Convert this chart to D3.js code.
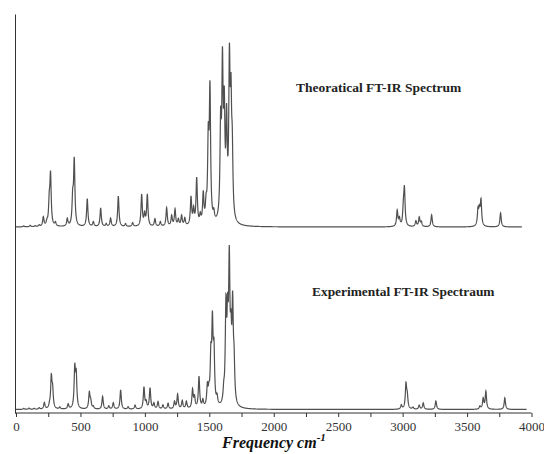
<!DOCTYPE html>
<html>
<head>
<meta charset="utf-8">
<script src="https://cdn.jsdelivr.net/npm/d3@7"></script>
<style>
  body { margin: 0; background: #fff; }
  svg text { font-family: "Liberation Serif", "DejaVu Serif", serif; }
</style>
</head>
<body>
<svg class="svgChart"></svg>
<script>
// Peak positions (cm-1) and relative intensities (%).
var theoPeaks = [60, 110, 150, 180, 212, 240, 258, 268, 306, 398, 440, 452, 553, 600, 657, 700, 734, 794, 850, 905,
    975, 998, 1019, 1078, 1120, 1169, 1208, 1234, 1260, 1285, 1310, 1358, 1378, 1402, 1430, 1453, 1475, 1492, 1505, 1535,
    1588, 1602, 1616, 1634, 1656, 1668, 1678,
    2958, 2975, 3006, 3014, 3103, 3129, 3145, 3225, 3585, 3596, 3608, 3760];
var theoHeights = [0.5, 0.8, 0.5, 0.8, 5, 2, 12, 27, 2, 4, 14, 35, 15, 2.5, 10, 1.5, 4.5, 16.5, 1.5, 2,
    17, 6, 17, 4, 2.5, 10, 5.5, 9, 3.5, 5.5, 4, 15, 8, 25, 4.5, 16, 9, 42, 70, 4.5,
    48, 78, 54, 50, 80, 56, 32,
    8.5, 4, 8.5, 19, 3, 5, 2.5, 6.5, 8.5, 7.5, 13.5, 7.5];

var expPeaks = [60, 100, 140, 180, 220, 260, 274, 284, 340, 405, 456, 467, 569, 580, 600, 672, 720, 755, 812, 870,
    924, 993, 1010, 1040, 1070, 1102, 1140, 1180, 1230, 1254, 1290, 1322, 1370, 1385, 1420, 1450, 1485, 1497, 1512, 1524,
    1536, 1560, 1612, 1629, 1642, 1655, 1668, 1681, 1692,
    2990, 3026, 3036, 3080, 3129, 3160, 3258, 3600, 3625, 3646, 3793];
var expHeights = [0.6, 0.8, 0.6, 0.9, 4, 1.8, 19, 11, 1.2, 3, 24, 20, 10, 4.5, 1.5, 8, 2, 4, 12, 1.5,
    2.5, 13.5, 4, 13, 3.5, 4.5, 2.5, 3.5, 4.5, 9, 5, 4.5, 11.5, 6.5, 19.5, 4.5, 12, 7.5, 28, 48,
    32, 5, 7, 57, 45, 82, 33, 57, 22,
    2.5, 15, 7.5, 1.2, 2.5, 4, 5.3, 1.8, 6.5, 11, 7.2];

var xTicks = [0, 250, 500, 750, 1000, 1250, 1500, 1750, 2000, 2250, 2500, 2750, 3000, 3250, 3500, 3750, 4000];
var xTickLabels = [0, 500, 1000, 1500, 2000, 2500, 3000, 3500, 4000];

var width = 544, height = 454;
var halfWidth = 6; // half width of each band, cm-1

var svg = d3.select(".svgChart")
    .attr("width", width)
    .attr("height", height);

var x = d3.scaleLinear().domain([0, 4000]).range([16, 531.5]);
var yTheo = d3.scaleLinear().domain([0, 100]).range([227, 42]);
var yExp = d3.scaleLinear().domain([0, 100]).range([409.5, 249]);
var yFrame = d3.scaleLinear().domain([0, 1]).range([413, 14]);

// Broaden the stick peaks into a line (Lorentzian band shape).
function spectrum(peaks, heights, end) {
    var pts = [];
    for (var w = 0; w <= end; w += 1) {
        var s = 0;
        for (var i = 0; i < peaks.length; i++) {
            var d = (w - peaks[i]) / halfWidth;
            s += heights[i] / (1 + d * d);
        }
        pts.push([w, s]);
    }
    return pts;
}

var lineTheo = d3.line()
    .x(function (d) { return x(d[0]); })
    .y(function (d) { return yTheo(d[1]); });
var lineExp = d3.line()
    .x(function (d) { return x(d[0]); })
    .y(function (d) { return yExp(d[1]); });

svg.append("path")
    .datum(spectrum(theoPeaks, theoHeights, 3925))
    .attr("d", lineTheo)
    .attr("fill", "none")
    .attr("stroke", "#505050")
    .attr("stroke-width", 1.2);

svg.append("path")
    .datum(spectrum(expPeaks, expHeights, 3962))
    .attr("d", lineExp)
    .attr("fill", "none")
    .attr("stroke", "#505050")
    .attr("stroke-width", 1.2);

// x axis
var xAxis = svg.append("g")
    .attr("transform", "translate(0,413)")
    .call(d3.axisBottom(x)
        .tickValues(xTicks)
        .tickSize(4)
        .tickSizeOuter(0)
        .tickPadding(5)
        .tickFormat(function (d) { return xTickLabels.indexOf(d) >= 0 ? d : ""; }));
xAxis.select(".domain").attr("stroke", "#333").attr("d", "M15,0H531.5");
xAxis.selectAll(".tick line").attr("stroke", "#333");
xAxis.selectAll(".tick text")
    .attr("fill", "#333")
    .style("font-size", "13px")
    .style("font-family", "'Liberation Serif', serif");

// y axis (plain line, no ticks)
var yAxis = svg.append("g")
    .attr("transform", "translate(15,0)")
    .call(d3.axisLeft(yFrame).tickValues([]).tickSizeOuter(0));
yAxis.select(".domain").attr("stroke", "#333");

// labels
svg.append("text")
    .attr("x", 296)
    .attr("y", 92)
    .style("font-size", "13.5px")
    .style("font-weight", "bold")
    .attr("fill", "#222")
    .text("Theoratical FT-IR Spectrum");

svg.append("text")
    .attr("x", 312)
    .attr("y", 296)
    .style("font-size", "13.4px")
    .style("font-weight", "bold")
    .attr("fill", "#222")
    .text("Experimental FT-IR Spectraum");

var title = svg.append("text")
    .attr("x", 222)
    .attr("y", 448)
    .style("font-size", "16px")
    .style("font-weight", "bold")
    .style("font-style", "italic")
    .attr("fill", "#111")
    .text("Frequency cm");
title.append("tspan")
    .attr("dy", -7)
    .style("font-size", "11px")
    .text("-1");
</script>
</body>
</html>
